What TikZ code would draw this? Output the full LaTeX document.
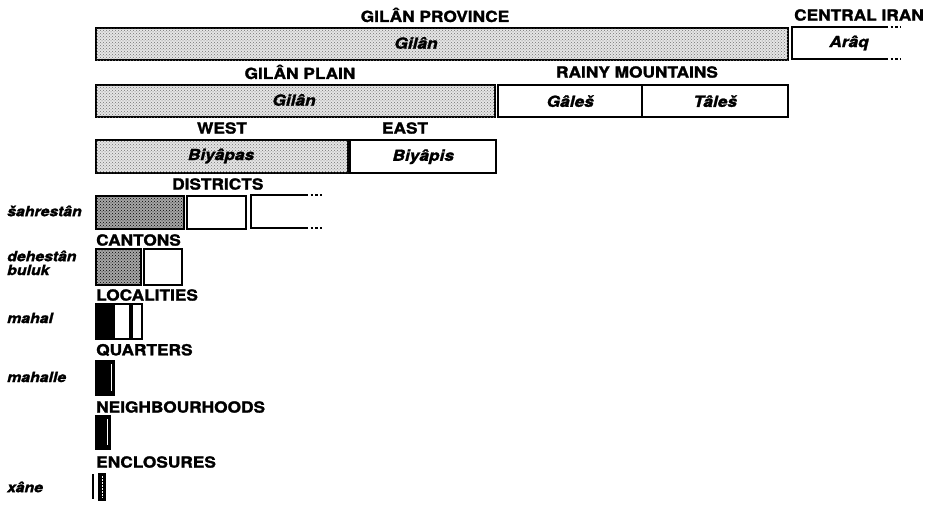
\documentclass[tikz,border=0pt]{standalone}
\usepackage{fontspec}
\setmainfont{TeX Gyre Heros}[FakeStretch=1.13,
  BoldFeatures={FakeBold=1.6},
  BoldItalicFeatures={FakeBold=1.6}]
\usetikzlibrary{patterns}
\tikzset{
  box/.style={draw, line width=2.4pt, inner sep=0pt, anchor=north west, font=\hdfont\itshape},
  lightbox/.style={box, fill=black!10, postaction={pattern=crosshatch dots, pattern color=black!55}},
  darkbox/.style={box, fill=black!35, postaction={pattern=crosshatch dots, pattern color=black}},
  blackbox/.style={box, fill=black},
  hd/.style={font=\hdfont, inner sep=0pt},
  it/.style={font=\hdfont\itshape, inner sep=0pt},
  lt/.style={font=\ltfont\itshape, inner sep=0pt, anchor=west},
  openline/.style={line width=2.4pt},
  dotline/.style={line width=2.4pt, dash pattern=on 2.4pt off 2.2pt},
}
\newcommand{\hdfont}{\fontsize{15.3}{16}\selectfont\bfseries}
\newcommand{\ltfont}{\fontsize{14}{15}\selectfont\bfseries}
\begin{document}
\begin{tikzpicture}[x=1pt,y=-1pt]
\useasboundingbox (0,0) rectangle (935,506);
% Row 1
\node[hd] (lprov) at (435,15) {GILÂN PROVINCE};
\node[lightbox, minimum width=692pt, minimum height=32pt] (prov) at (95,27) {};
\node[it] (tprov) at (416,43) {Gilân};
\node[hd] (lciran) at (859,15) {CENTRAL IRAN};
\coordinate (ciTL) at (792,27);
\coordinate (ciBL) at (792,59);
\coordinate (ciTR) at (886,27);
\coordinate (ciBR) at (886,59);
\coordinate (ciTD) at (900,27);
\coordinate (ciBD) at (900,59);
\draw[openline] (ciTR) -- (ciTL) -- (ciBL) -- (ciBR);
\draw[dotline] (ciTR) -- (ciTD);
\draw[dotline] (ciBR) -- (ciBD);
\node[it] (tciran) at (849,43) {Arâq};
% Row 2
\node[hd] (lplain) at (300,72) {GILÂN PLAIN};
\node[lightbox, minimum width=399pt, minimum height=32pt] (plain) at (95,84) {};
\node[it] (tplain) at (294,100) {Gilân};
\node[hd] (lrainy) at (637,72) {RAINY MOUNTAINS};
\node[box, minimum width=144pt, minimum height=32pt] (gales) at (497,84) {Gâleš};
\node[box, minimum width=146pt, minimum height=32pt] (tales) at (641,84) {Tâleš};
% Row 3
\node[hd] (lwest) at (222,128) {WEST};
\node[lightbox, minimum width=252pt, minimum height=33pt] (west) at (95,139) {};
\node[it] (twest) at (221,156) {Biyâpas};
\node[hd] (least) at (405,128) {EAST};
\node[box, minimum width=146pt, minimum height=33pt] (east) at (349,139) {Biyâpis};
% Districts
\node[hd, anchor=west] (ldist) at (172,184) {DISTRICTS};
\node[lt] (lsahr) at (7,211) {šahrestân};
\node[darkbox, minimum width=88pt, minimum height=33pt] (d1) at (95,195) {};
\node[box, minimum width=59pt, minimum height=33pt] (d2) at (186,195) {};
\coordinate (d3TL) at (251,195);
\coordinate (d3BL) at (251,228);
\coordinate (d3TR) at (306,195);
\coordinate (d3BR) at (306,228);
\coordinate (d3TD) at (322,195);
\coordinate (d3BD) at (322,228);
\draw[openline] (d3TR) -- (d3TL) -- (d3BL) -- (d3BR);
\draw[dotline] (d3TR) -- (d3TD);
\draw[dotline] (d3BR) -- (d3BD);
% Cantons
\node[hd, anchor=west] (lcant) at (96,240) {CANTONS};
\node[lt] (ldeh) at (7,256) {dehestân};
\node[lt] (lbul) at (7,270) {buluk};
\node[darkbox, minimum width=45pt, minimum height=36pt] (c1) at (95,248) {};
\node[box, minimum width=38pt, minimum height=36pt] (c2) at (143,248) {};
% Localities
\node[hd, anchor=west] (lloc) at (96,295) {LOCALITIES};
\node[lt] (lmahal) at (7,318) {mahal};
\node[blackbox, minimum width=16pt, minimum height=35pt] (m1) at (95,303) {};
\node[box, minimum width=16pt, minimum height=35pt] (m2) at (113,303) {};
\node[box, minimum width=10pt, minimum height=35pt] (m3) at (131,303) {};
% Quarters
\node[hd, anchor=west] (lquart) at (96,350) {QUARTERS};
\node[lt] (lmahalle) at (7,377) {mahalle};
\node[blackbox, minimum width=18pt, minimum height=34pt] (q1) at (95,360) {};
\draw[white, line width=1.2pt] ([xshift=-4pt,yshift=-4pt]q1.north east) -- ([xshift=-4pt,yshift=5pt]q1.south east);
% Neighbourhoods
\node[hd, anchor=west] (lneigh) at (96,407) {NEIGHBOURHOODS};
\node[blackbox, minimum width=14pt, minimum height=33pt] (n1) at (95,415) {};
\draw[white, line width=1.2pt] ([xshift=-4pt,yshift=-4pt]n1.north east) -- ([xshift=-4pt,yshift=5pt]n1.south east);
% Enclosures
\node[hd, anchor=west] (lencl) at (96,462) {ENCLOSURES};
\node[lt] (lxane) at (7,487) {xâne};
\node[blackbox, minimum width=6pt, minimum height=26pt] (e1) at (98,473) {};
\coordinate (eTL) at (93,474);
\coordinate (eBL) at (93,499);
\draw[line width=1.5pt] (eTL) -- (eBL);
\draw[white, line width=1pt, dash pattern=on 1.5pt off 1.5pt] ([yshift=-3pt]e1.north) -- ([yshift=3pt]e1.south);
\end{tikzpicture}
\end{document}
